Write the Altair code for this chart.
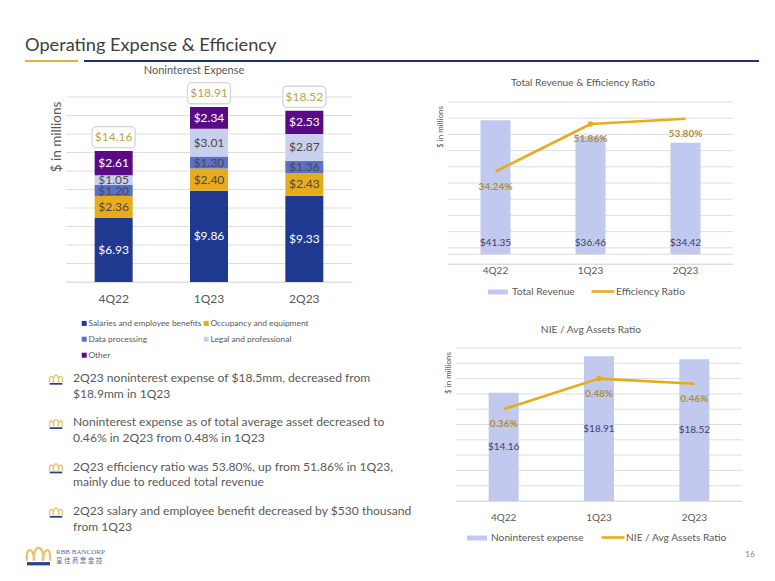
import altair as alt
import pandas as pd

FONT = "Lato"
GRAY = "#595959"
GRID = "#dedede"
GOLD = "#e6ac1c"
LABEL_GOLD = "#ad8f3c"
NAVY = "#1f3990"

quarters = ["4Q22", "1Q23", "2Q23"]
series = ["Salaries and employee benefits", "Occupancy and equipment", "Data processing", "Legal and professional", "Other"]
series_colors = [NAVY, GOLD, "#5b70c8", "#c9cfee", "#5a0a86"]
label_colors = ["#ffffff", "#4a4a4a", "#4a4a4a", "#4a4a4a", "#ffffff"]
salaries = [6.93, 9.86, 9.33]
occupancy = [2.36, 2.40, 2.43]
data_proc = [1.20, 1.30, 1.36]
legal = [1.05, 3.01, 2.87]
other = [2.61, 2.34, 2.53]
totals = [14.16, 18.91, 18.52]
revenue = [41.35, 36.46, 34.42]
efficiency = [34.24, 51.86, 53.80]
nie = [14.16, 18.91, 18.52]
nie_ratio = [0.36, 0.48, 0.46]
bullets = [
    "2Q23 noninterest expense of $18.5mm, decreased from\n$18.9mm in 1Q23",
    "Noninterest expense as of total average asset decreased to\n0.46% in 2Q23 from 0.48% in 1Q23",
    "2Q23 efficiency ratio was 53.80%, up from 51.86% in 1Q23,\nmainly due to reduced total revenue",
    "2Q23 salary and employee benefit decreased by $530 thousand\nfrom 1Q23",
]

CROWN = "M-1,0.5 C-1.15,-0.7 -0.45,-0.75 -0.35,0.5 M-0.42,0.5 C-0.5,-1 0.5,-1 0.42,0.5 M1,0.5 C1.15,-0.7 0.45,-0.75 0.35,0.5"
BASE = "M-1,0.62 H1 V0.9 H-1 Z"

rows = []
for q_i, q in enumerate(quarters):
    base = 0.0
    for s_i, vals in enumerate([salaries, occupancy, data_proc, legal, other]):
        v = vals[q_i]
        rows.append(dict(q=q, s=series[s_i], k=s_i, v=v, y0=base, y1=base + v, mid=base + v / 2,
                         lab=f"${v:.2f}", lc=label_colors[s_i]))
        base += v
stack_df = pd.DataFrame(rows)
tot_df = pd.DataFrame(dict(q=quarters, t=totals, lab=[f"${t:.2f}" for t in totals]))
tot_df["lo"] = tot_df.t + 0.36
tot_df["hi"] = tot_df.t + 2.64
tot_df["c"] = tot_df.t + 1.5


def one_text(txt, x, y, size=11, color=GRAY, angle=0, align="center", font=FONT):
    return alt.Chart(pd.DataFrame({"t": [txt]})).mark_text(
        fontSize=size, color=color, angle=angle, align=align, baseline="middle", font=font
    ).encode(text="t:N", x=alt.value(x), y=alt.value(y))


def hrule(x1, x2, y, color, w):
    return alt.Chart(pd.DataFrame({"a": [0]})).mark_rule(color=color, strokeWidth=w).encode(
        x=alt.value(x1), x2=alt.value(x2), y=alt.value(y))


def panel(layers, w, h):
    return alt.layer(*layers).properties(width=w, height=h)


def xq(size=12, pad=11):
    return alt.X("q:N", sort=quarters, title=None, scale=alt.Scale(domain=quarters, paddingInner=0.6, paddingOuter=0.3),
                 axis=alt.Axis(labelAngle=0, labelFontSize=size, labelColor=GRAY, labelFont=FONT, ticks=False,
                               labelPadding=pad, domainColor=GRID, grid=False))


def xq2(rng, pad, size=10):
    return alt.X("q:N", sort=quarters, title=None,
                 scale=alt.Scale(domain=quarters, range=rng, paddingInner=0.685, paddingOuter=0.3425),
                 axis=alt.Axis(labelAngle=0, labelFontSize=size, labelColor=GRAY, labelFont=FONT, ticks=False,
                               labelPadding=pad, domainColor=GRID, grid=False))


NO_AXIS = alt.Axis(labels=False, ticks=False, domain=False, grid=False, title=None)

# ---------- header (origin sits on the stacked chart's left edge)
header = panel([
    one_text("Operating Expense & Efficiency", -41, 38, size=18.2, color="#404040", align="left"),
    hrule(-41, 12, 53, "#e0b040", 2),
    hrule(18, 693, 53, "#1f2f70", 2),
], 693, 54)

# ---------- stacked chart
stack_scale = alt.Scale(domain=[0, 20])
grid_stack = alt.Chart(pd.DataFrame({"g": list(range(0, 21, 2))})).mark_rule(color=GRID).encode(
    y=alt.Y("g:Q", scale=stack_scale, title=None, axis=NO_AXIS))
bars = alt.Chart(stack_df).mark_bar(size=38).encode(
    x=xq(), y=alt.Y("y0:Q", title=None, scale=stack_scale), y2="y1:Q",
    color=alt.Color("s:N", scale=alt.Scale(domain=series, range=series_colors), sort=series,
                    legend=alt.Legend(orient="none", legendX=14, legendY=222, direction="horizontal", columns=2,
                                      title=None, symbolType="square", symbolSize=25, labelFontSize=8.4,
                                      labelColor=GRAY, labelFont=FONT, columnPadding=0, rowPadding=7, labelOffset=0,
                                      labelLimit=200, symbolStrokeWidth=0, padding=0)),
)
seg_labels = alt.Chart(stack_df).mark_text(fontSize=12, font=FONT, baseline="middle").encode(
    x=xq(), y=alt.Y("mid:Q", scale=stack_scale, title=None),
    text="lab:N", color=alt.Color("lc:N", scale=None))
boxes = alt.Chart(tot_df).mark_bar(size=43, cornerRadius=4, fill="#ffffff", stroke="#d6d6d6", strokeWidth=1.3).encode(
    x=xq(), y=alt.Y("lo:Q", scale=stack_scale, title=None), y2="hi:Q")
tot_labels = alt.Chart(tot_df).mark_text(fontSize=12, font=FONT, color="#b9a24e", baseline="middle").encode(
    x=xq(), y=alt.Y("c:Q", scale=stack_scale, title=None), text="lab:N")
stack_chart = alt.layer(grid_stack, bars, seg_labels, boxes, tot_labels,
                        one_text("$ in millions", -9, 40, size=13.5, angle=270)).properties(width=286, height=185)
left_title = panel([one_text("Noninterest Expense", 128, 9, size=11)], 286, 35)

# ---------- bullets + footer
bul_df = pd.DataFrame(dict(i=list(range(len(bullets))), t=bullets))
bul_y = alt.Y("i:O", axis=None, title=None,
              scale=alt.Scale(domain=list(range(len(bullets))), range=[90, 223], padding=0))
bul_text = alt.Chart(bul_df).mark_text(fontSize=12.1, font=FONT, color=GRAY, align="left", baseline="top",
                                       lineBreak="\n", lineHeight=15.5).encode(
    x=alt.value(7), y=bul_y, text="t:N")
bul_crown = alt.Chart(bul_df).mark_point(shape=CROWN, size=160, filled=False, stroke="#e0ac2c", strokeWidth=1.4).encode(
    x=alt.value(-10), y=bul_y, yOffset=alt.value(7))
bul_base = alt.Chart(bul_df).mark_point(shape=BASE, size=160, filled=True, fill="#2b3f8f", opacity=1).encode(
    x=alt.value(-10), y=bul_y, yOffset=alt.value(7))
logo_df = pd.DataFrame({"a": [0]})
logo_crown = alt.Chart(logo_df).mark_point(shape=CROWN, size=529, filled=False, stroke="#e0ac2c", strokeWidth=2.2).encode(
    x=alt.value(-27.5), y=alt.value(273))
logo_base = alt.Chart(logo_df).mark_point(shape=BASE, size=529, filled=True, fill="#2b3f8f", opacity=1).encode(
    x=alt.value(-27.5), y=alt.value(273))
text_panel = alt.layer(
    bul_crown, bul_base, bul_text, logo_crown, logo_base,
    one_text("RBB BANCORP", -10, 270, size=7, color="#5a6a9a", align="left", font="Liberation Serif"),
    one_text("皇 佳 商 業 金 控", -10, 279, size=6.5, color="#5a6a9a", align="left", font="Noto Sans CJK TC"),
).properties(width=286, height=240)
left_col = alt.vconcat(left_title, stack_chart, text_panel, spacing=0, bounds="flush").resolve_scale(
    color="independent", stroke="independent", x="independent", y="independent")


# ---------- combo charts
def combo(bar_vals, line_vals, bar_name, line_name, ydom, yvals, ldom, bar_y, bar_dy, rng, pad, w, h, leg, extra=None):
    d = pd.DataFrame(dict(q=quarters, b=bar_vals, l=line_vals, bs=[bar_name] * 3, ls=[line_name] * 3,
                          bl=[f"${v:.2f}" for v in bar_vals], ll=[f"{v:.2f}%" for v in line_vals]))
    d["bm"] = d.b / 2 if bar_y == "mid" else 0.0
    sc = alt.Scale(domain=ydom)
    ln = alt.Scale(domain=ldom)
    x = xq2(rng, pad)
    bar = alt.Chart(d).mark_bar(size=30).encode(
        x=x, y=alt.Y("b:Q", scale=sc, title=None, axis=NO_AXIS), y2=alt.datum(0),
        color=alt.Color("bs:N", scale=alt.Scale(domain=[bar_name], range=["#c2c9ee"]),
                        legend=alt.Legend(orient="none", legendX=leg[0], legendY=h + leg[2], title=None,
                                          symbolType="M-1,-0.25H1V0.25H-1Z", symbolSize=400, labelFontSize=10.2,
                                          labelColor=GRAY, labelFont=FONT, labelOffset=4, symbolStrokeWidth=0,
                                          padding=0, labelLimit=200)))
    blab = alt.Chart(d).mark_text(fontSize=10, font=FONT, color="#3b4266", baseline="middle", dy=bar_dy).encode(
        x=x, y=alt.Y("bm:Q", scale=sc, title=None), text="bl:N")
    line = alt.Chart(d).mark_line(strokeWidth=2.6).encode(
        x=x, y=alt.Y("l:Q", scale=ln, title=None, axis=None),
        stroke=alt.Stroke("ls:N", scale=alt.Scale(domain=[line_name], range=[GOLD]),
                          legend=alt.Legend(orient="none", legendX=leg[1], legendY=h + leg[3], title=None,
                                            symbolType="stroke", symbolSize=529, symbolStrokeWidth=2.6,
                                            labelFontSize=10.2, labelColor=GRAY, labelFont=FONT, labelOffset=0,
                                            padding=0, labelLimit=200)))
    dot = alt.Chart(d[d.q == "1Q23"]).mark_point(filled=True, size=30, color=GOLD, opacity=1).encode(
        x=x, y=alt.Y("l:Q", scale=ln, title=None, axis=None))
    llab = alt.Chart(d).mark_text(fontSize=10, font=FONT, color=LABEL_GOLD, fontWeight="bold", baseline="middle",
                                  dy=15).encode(
        x=x, y=alt.Y("l:Q", scale=ln, title=None, axis=None), text="ll:N")
    grid_df = pd.DataFrame({"g": yvals + (extra or [])})
    grid = alt.Chart(grid_df).mark_rule(color=GRID).encode(
        x=alt.value(rng[0]), x2=alt.value(rng[1]), y=alt.Y("g:Q", scale=sc, title=None))
    left = alt.layer(grid, bar, blab)
    right = alt.layer(line, dot, llab)
    return alt.layer(left, right).resolve_scale(y="independent").properties(width=w, height=h)


rev_chart = combo(revenue, efficiency, "Total Revenue", "Efficiency Ratio", [-3, 47], list(range(-3, 48, 5)), [0, 60],
                  "base", -11, [0, 285], 1, 285, 162, (40, 142, 18, 14.5), extra=[0])
nie_chart = combo(nie, nie_ratio, "Noninterest expense", "NIE / Avg Assets Ratio", [0, 20], list(range(0, 21, 2)),
                  [0, 0.6], "mid", 0, [8, 294], 11, 294, 153, (19, 152, 27, 23.5))

t1 = panel([one_text("Total Revenue & Efficiency Ratio", 135, 21, size=10.2)], 285, 40)
t2 = panel([one_text("NIE / Avg Assets Ratio", 143, 66, size=10.2)], 285, 84)
rev_full = alt.layer(rev_chart, one_text("$ in millions", -7, 25, size=8, angle=270))
nie_full = alt.layer(nie_chart, one_text("$ in millions", 1, 25, size=8, angle=270),
                     one_text("16", 302, 207, size=8, color="#7f7f7f"))
right_col = alt.vconcat(t1, rev_full, t2, nie_full, spacing=0, bounds="flush").resolve_scale(
    color="independent", stroke="independent", x="independent", y="independent")

body = alt.hconcat(left_col, right_col, spacing=24).resolve_scale(color="independent", stroke="independent")
chart = alt.vconcat(header, body, spacing=0).resolve_scale(color="independent", stroke="independent").properties(
    padding={"left": 14, "top": 0, "right": 0, "bottom": 0}, background="white"
).configure_view(stroke=None)

chart.save("out.html", embed_options={"renderer": "svg", "actions": False})
